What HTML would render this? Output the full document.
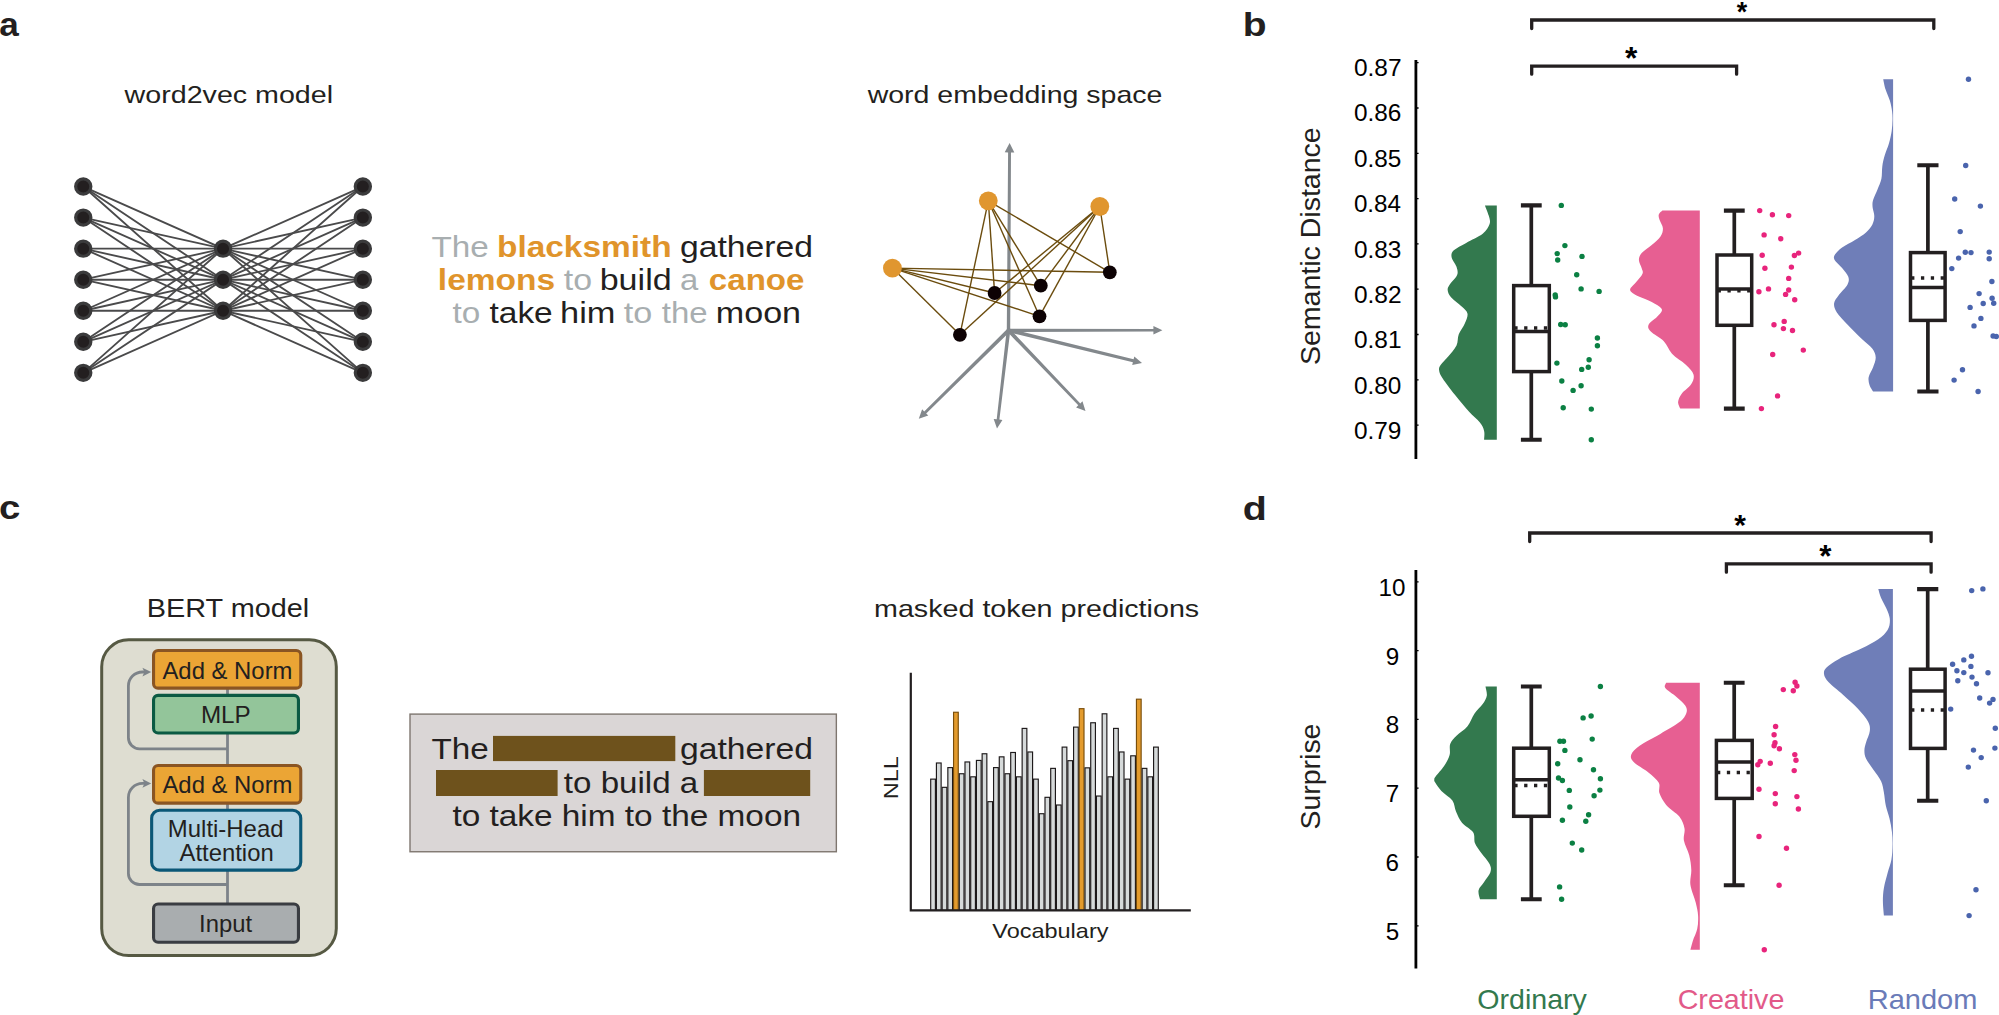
<!DOCTYPE html>
<html lang="en"><head><meta charset="utf-8"><title>Figure</title>
<style>html,body{margin:0;padding:0;background:#fff}body{width:1999px;height:1015px;overflow:hidden}svg{display:block}</style></head><body>
<svg width="1999" height="1015" viewBox="0 0 1999 1015" font-family="Liberation Sans, Arial, Helvetica, sans-serif">
<rect width="1999" height="1015" fill="#fff"/>
<text x="-0.85" y="36.2" font-size="34.1" textLength="19.53" lengthAdjust="spacingAndGlyphs" fill="#231f20" font-weight="bold">a</text>
<text x="1242.76" y="36.2" font-size="33.2" textLength="23.83" lengthAdjust="spacingAndGlyphs" fill="#231f20" font-weight="bold">b</text>
<text x="-1.03" y="519.4" font-size="34.1" textLength="21.33" lengthAdjust="spacingAndGlyphs" fill="#231f20" font-weight="bold">c</text>
<text x="1242.72" y="520" font-size="33.2" textLength="24.07" lengthAdjust="spacingAndGlyphs" fill="#231f20" font-weight="bold">d</text>
<text x="124.57" y="102.7" font-size="24.8" textLength="208.53" lengthAdjust="spacingAndGlyphs" fill="#231f20">word2vec model</text>
<g stroke="#4a4a4b" stroke-width="1.85">
<path d="M83.25 186.55L223.05 248.65L362.85 186.55" fill="none"/>
<path d="M83.25 186.55L223.05 279.7L362.85 186.55" fill="none"/>
<path d="M83.25 186.55L223.05 310.75L362.85 186.55" fill="none"/>
<path d="M83.25 217.6L223.05 248.65L362.85 217.6" fill="none"/>
<path d="M83.25 217.6L223.05 279.7L362.85 217.6" fill="none"/>
<path d="M83.25 217.6L223.05 310.75L362.85 217.6" fill="none"/>
<path d="M83.25 248.65L223.05 248.65L362.85 248.65" fill="none"/>
<path d="M83.25 248.65L223.05 279.7L362.85 248.65" fill="none"/>
<path d="M83.25 248.65L223.05 310.75L362.85 248.65" fill="none"/>
<path d="M83.25 279.7L223.05 248.65L362.85 279.7" fill="none"/>
<path d="M83.25 279.7L223.05 279.7L362.85 279.7" fill="none"/>
<path d="M83.25 279.7L223.05 310.75L362.85 279.7" fill="none"/>
<path d="M83.25 310.75L223.05 248.65L362.85 310.75" fill="none"/>
<path d="M83.25 310.75L223.05 279.7L362.85 310.75" fill="none"/>
<path d="M83.25 310.75L223.05 310.75L362.85 310.75" fill="none"/>
<path d="M83.25 341.8L223.05 248.65L362.85 341.8" fill="none"/>
<path d="M83.25 341.8L223.05 279.7L362.85 341.8" fill="none"/>
<path d="M83.25 341.8L223.05 310.75L362.85 341.8" fill="none"/>
<path d="M83.25 372.85L223.05 248.65L362.85 372.85" fill="none"/>
<path d="M83.25 372.85L223.05 279.7L362.85 372.85" fill="none"/>
<path d="M83.25 372.85L223.05 310.75L362.85 372.85" fill="none"/>
</g>
<g fill="#231f20" stroke="#3b3b3c" stroke-width="3.2">
<circle cx="83.25" cy="186.55" r="7.6"/><circle cx="362.85" cy="186.55" r="7.6"/>
<circle cx="83.25" cy="217.6" r="7.6"/><circle cx="362.85" cy="217.6" r="7.6"/>
<circle cx="83.25" cy="248.65" r="7.6"/><circle cx="362.85" cy="248.65" r="7.6"/>
<circle cx="83.25" cy="279.7" r="7.6"/><circle cx="362.85" cy="279.7" r="7.6"/>
<circle cx="83.25" cy="310.75" r="7.6"/><circle cx="362.85" cy="310.75" r="7.6"/>
<circle cx="83.25" cy="341.8" r="7.6"/><circle cx="362.85" cy="341.8" r="7.6"/>
<circle cx="83.25" cy="372.85" r="7.6"/><circle cx="362.85" cy="372.85" r="7.6"/>
<circle cx="223.05" cy="248.65" r="7.6"/>
<circle cx="223.05" cy="279.7" r="7.6"/>
<circle cx="223.05" cy="310.75" r="7.6"/>
</g>
<text x="431.45" y="256.7" font-size="28.7" textLength="57.28" lengthAdjust="spacingAndGlyphs" fill="#a8aeb0">The</text>
<text x="497.03" y="256.7" font-size="28.7" textLength="174.54" lengthAdjust="spacingAndGlyphs" fill="#e0942b" font-weight="bold">blacksmith</text>
<text x="679.97" y="256.7" font-size="28.7" textLength="133.05" lengthAdjust="spacingAndGlyphs" fill="#231f20">gathered</text>
<text x="437.85" y="289.8" font-size="28.7" textLength="117.32" lengthAdjust="spacingAndGlyphs" fill="#e0942b" font-weight="bold">lemons</text>
<text x="563.79" y="289.8" font-size="28.7" textLength="28.32" lengthAdjust="spacingAndGlyphs" fill="#a8aeb0">to</text>
<text x="599.69" y="289.8" font-size="28.7" textLength="71.96" lengthAdjust="spacingAndGlyphs" fill="#231f20">build</text>
<text x="680.01" y="289.8" font-size="28.7" textLength="18.25" lengthAdjust="spacingAndGlyphs" fill="#a8aeb0">a</text>
<text x="708.88" y="289.8" font-size="28.7" textLength="95.61" lengthAdjust="spacingAndGlyphs" fill="#e0942b" font-weight="bold">canoe</text>
<text x="452.4" y="322.8" font-size="28.7" textLength="27.78" lengthAdjust="spacingAndGlyphs" fill="#a8aeb0">to</text>
<text x="489.5" y="322.8" font-size="28.7" textLength="63.23" lengthAdjust="spacingAndGlyphs" fill="#231f20">take</text>
<text x="560.09" y="322.8" font-size="28.7" textLength="55.39" lengthAdjust="spacingAndGlyphs" fill="#231f20">him</text>
<text x="623.89" y="322.8" font-size="28.7" textLength="28.53" lengthAdjust="spacingAndGlyphs" fill="#a8aeb0">to</text>
<text x="661.81" y="322.8" font-size="28.7" textLength="45.8" lengthAdjust="spacingAndGlyphs" fill="#a8aeb0">the</text>
<text x="715.8" y="322.8" font-size="28.7" textLength="85.28" lengthAdjust="spacingAndGlyphs" fill="#231f20">moon</text>
<text x="867.67" y="102.6" font-size="24.8" textLength="294.74" lengthAdjust="spacingAndGlyphs" fill="#231f20">word embedding space</text>
<polygon fill="#83888c" points="1010.2,330.31 1010.99,152.41 1014.34,152.43 1009.6,143 1004.74,152.37 1008.09,152.39 1006.8,330.29"/>
<polygon fill="#83888c" points="1008.5,331.95 1153.4,331.41 1153.4,334.41 1162.4,330.2 1153.4,326.01 1153.4,329.01 1008.5,328.65"/>
<polygon fill="#83888c" points="1008.04,332.19 1132.91,362.17 1132.21,365.04 1142,362.9 1134.3,356.49 1133.6,359.36 1008.96,328.41"/>
<polygon fill="#83888c" points="1007.13,331.61 1078.27,405.36 1076.1,407.43 1085.5,410.9 1082.46,401.35 1080.3,403.43 1009.87,328.99"/>
<polygon fill="#83888c" points="1006.71,330.09 996.71,419.3 993.68,418.95 997,428.4 1002.42,419.97 999.39,419.62 1010.29,330.51"/>
<polygon fill="#83888c" points="1007.17,328.95 924.22,411.48 922.12,409.35 918.8,418.8 928.3,415.61 926.19,413.48 1009.83,331.65"/>
<circle cx="1008.5" cy="330.3" r="1.9" fill="#83888c"/>
<g stroke="#6b4c0e" stroke-width="1.4">
<line x1="988.3" y1="200.8" x2="1109.8" y2="272.3"/>
<line x1="988.3" y1="200.8" x2="1040.8" y2="285.7"/>
<line x1="988.3" y1="200.8" x2="994.6" y2="293"/>
<line x1="988.3" y1="200.8" x2="1039.5" y2="316.3"/>
<line x1="988.3" y1="200.8" x2="959.9" y2="334.8"/>
<line x1="1099.8" y1="206.5" x2="1109.8" y2="272.3"/>
<line x1="1099.8" y1="206.5" x2="1040.8" y2="285.7"/>
<line x1="1099.8" y1="206.5" x2="994.6" y2="293"/>
<line x1="1099.8" y1="206.5" x2="1039.5" y2="316.3"/>
<line x1="1099.8" y1="206.5" x2="959.9" y2="334.8"/>
<line x1="892.4" y1="268.1" x2="1109.8" y2="272.3"/>
<line x1="892.4" y1="268.1" x2="1040.8" y2="285.7"/>
<line x1="892.4" y1="268.1" x2="994.6" y2="293"/>
<line x1="892.4" y1="268.1" x2="1039.5" y2="316.3"/>
<line x1="892.4" y1="268.1" x2="959.9" y2="334.8"/>
</g>
<g fill="#e0962f"><circle cx="988.3" cy="200.8" r="9.4"/><circle cx="1099.8" cy="206.5" r="9.4"/><circle cx="892.4" cy="268.1" r="9.4"/></g>
<g fill="#0d0204"><circle cx="1109.8" cy="272.3" r="6.9"/><circle cx="1040.8" cy="285.7" r="6.9"/><circle cx="994.6" cy="293" r="6.9"/><circle cx="1039.5" cy="316.3" r="6.9"/><circle cx="959.9" cy="334.8" r="6.9"/></g>
<path d="M1415.9 60V459" stroke="#000" stroke-width="2.8" fill="none"/>
<path d="M1416 62.7h2.6M1416 108h2.6M1416 153.3h2.6M1416 198.6h2.6M1416 243.9h2.6M1416 289.2h2.6M1416 334.5h2.6M1416 379.8h2.6M1416 425.1h2.6" stroke="#000" stroke-width="1.3"/>
<text x="1353.92" y="76" font-size="23.3" textLength="47.64" lengthAdjust="spacingAndGlyphs" fill="#000">0.87</text>
<text x="1353.92" y="121.4" font-size="23.3" textLength="47.44" lengthAdjust="spacingAndGlyphs" fill="#000">0.86</text>
<text x="1353.93" y="166.8" font-size="23.3" textLength="47.38" lengthAdjust="spacingAndGlyphs" fill="#000">0.85</text>
<text x="1353.93" y="212.2" font-size="23.3" textLength="47.07" lengthAdjust="spacingAndGlyphs" fill="#000">0.84</text>
<text x="1353.92" y="257.6" font-size="23.3" textLength="47.44" lengthAdjust="spacingAndGlyphs" fill="#000">0.83</text>
<text x="1353.92" y="303" font-size="23.3" textLength="47.64" lengthAdjust="spacingAndGlyphs" fill="#000">0.82</text>
<text x="1353.92" y="348.4" font-size="23.3" textLength="47.57" lengthAdjust="spacingAndGlyphs" fill="#000">0.81</text>
<text x="1353.93" y="393.8" font-size="23.3" textLength="47.32" lengthAdjust="spacingAndGlyphs" fill="#000">0.80</text>
<text x="1353.92" y="439.2" font-size="23.3" textLength="47.51" lengthAdjust="spacingAndGlyphs" fill="#000">0.79</text>
<text transform="translate(1319.9 363.8) rotate(-90)" x="-1.28" y="0" font-size="27.3" textLength="237.76" lengthAdjust="spacingAndGlyphs" fill="#231f20">Semantic Distance</text>
<g stroke="#231f20" stroke-width="3.3" fill="none" stroke-linecap="round" stroke-linejoin="miter">
<path d="M1531.7 28.6V20H1933.8V28.6"/>
<path d="M1531.7 74.2V66.2H1736.6V74.2"/>
</g>
<text x="1736.87" y="20.66" font-size="26.85" textLength="10.45" lengthAdjust="spacingAndGlyphs" fill="#000" font-weight="bold">*</text>
<text x="1625.12" y="69.18" font-size="31.68" textLength="12.33" lengthAdjust="spacingAndGlyphs" fill="#000" font-weight="bold">*</text>
<path d="M1496.8 205.4L1484.9 205.4C1485.55 207.13 1488.02 212.68 1488.8 215.8C1489.58 218.92 1490.62 221.1 1489.6 224.1C1488.58 227.1 1486.6 230.67 1482.7 233.8C1478.8 236.93 1471.02 240.15 1466.2 242.9C1461.38 245.65 1456.23 247.92 1453.8 250.3C1451.37 252.68 1451.15 254.45 1451.6 257.2C1452.05 259.95 1455.58 263.82 1456.5 266.8C1457.42 269.78 1458.25 272.1 1457.1 275.1C1455.95 278.1 1451.17 282.27 1449.6 284.8C1448.03 287.33 1447.47 288.23 1447.7 290.3C1447.93 292.37 1448.62 294.45 1451 297.2C1453.38 299.95 1459.25 304.05 1462 306.8C1464.75 309.55 1467.03 310.93 1467.5 313.7C1467.97 316.47 1466.27 319.95 1464.8 323.4C1463.33 326.85 1460.08 330.73 1458.7 334.4C1457.32 338.07 1458.25 341.72 1456.5 345.4C1454.75 349.08 1450.82 353.28 1448.2 356.5C1445.58 359.72 1442.32 362.42 1440.8 364.7C1439.28 366.98 1438.78 367.9 1439.1 370.2C1439.42 372.5 1440.03 374.35 1442.7 378.5C1445.37 382.65 1450.73 389.58 1455.1 395.1C1459.47 400.62 1464.77 407.02 1468.9 411.6C1473.03 416.18 1477.37 419.38 1479.9 422.6C1482.43 425.82 1483.4 428.05 1484.1 430.9C1484.8 433.75 1484.1 438.23 1484.1 439.7L1496.8 439.7Z" fill="#33794e"/>
<g stroke="#231f20" stroke-width="3.5" fill="none">
<path d="M1520.9 205.4H1541.7M1520.9 439.7H1541.7" stroke-width="4.1"/>
<path d="M1531.3 205.4V285.6M1531.3 371.6V439.7" stroke-width="3.7"/>
<rect x="1513.7" y="285.6" width="35.6" height="86"/>
<path d="M1513.7 331.6H1549.3"/>
<path d="M1514.3 328H1550.8" stroke-dasharray="3.3 6.55"/>
</g>
<g fill="#0b8043"><circle cx="1561.3" cy="205.4" r="2.7"/><circle cx="1564.9" cy="245.6" r="2.7"/><circle cx="1557.2" cy="253.6" r="2.7"/><circle cx="1557.7" cy="260" r="2.7"/><circle cx="1582" cy="256.4" r="2.7"/><circle cx="1576.7" cy="274.8" r="2.7"/><circle cx="1581.1" cy="288.9" r="2.7"/><circle cx="1599.1" cy="291.4" r="2.7"/><circle cx="1555.2" cy="295" r="2.7"/><circle cx="1555.5" cy="296.9" r="2.7"/><circle cx="1560.7" cy="324.5" r="2.7"/><circle cx="1565.2" cy="324.7" r="2.7"/><circle cx="1597.4" cy="338" r="2.7"/><circle cx="1597.4" cy="345.7" r="2.7"/><circle cx="1589.1" cy="359.8" r="2.7"/><circle cx="1556.9" cy="363.1" r="2.7"/><circle cx="1588.3" cy="367.2" r="2.7"/><circle cx="1581.7" cy="369.4" r="2.7"/><circle cx="1561.8" cy="381" r="2.7"/><circle cx="1581.1" cy="385.7" r="2.7"/><circle cx="1573.1" cy="390.4" r="2.7"/><circle cx="1563.2" cy="407.7" r="2.7"/><circle cx="1591.3" cy="409.1" r="2.7"/><circle cx="1591.3" cy="439.7" r="2.7"/></g>
<path d="M1699.8 210.6L1662.4 210.6C1661.8 211.25 1659.27 212.93 1658.8 214.5C1658.33 216.07 1658.92 217.72 1659.6 220C1660.28 222.28 1662.75 225.45 1662.9 228.2C1663.05 230.95 1662.42 233.65 1660.5 236.5C1658.58 239.35 1654.53 242.53 1651.4 245.3C1648.27 248.07 1643.78 250.65 1641.7 253.1C1639.62 255.55 1638.9 257.48 1638.9 260C1638.9 262.52 1641.1 265.92 1641.7 268.2C1642.3 270.48 1643.42 271.4 1642.5 273.7C1641.58 276 1638.27 279.37 1636.2 282C1634.13 284.63 1630.33 287.43 1630.1 289.5C1629.87 291.57 1631.72 292.57 1634.8 294.4C1637.88 296.23 1644.47 298.43 1648.6 300.5C1652.73 302.57 1657.4 305.05 1659.6 306.8C1661.8 308.55 1662.25 309.3 1661.8 311C1661.35 312.7 1659.1 314.72 1656.9 317C1654.7 319.28 1649.62 322.27 1648.6 324.7C1647.58 327.13 1648.27 328.83 1650.8 331.6C1653.33 334.37 1660.27 337.62 1663.8 341.3C1667.33 344.98 1668.33 349.8 1672 353.7C1675.67 357.6 1682.22 361.25 1685.8 364.7C1689.38 368.15 1692.58 371.18 1693.5 374.4C1694.42 377.62 1693.27 380.78 1691.3 384C1689.33 387.22 1683.9 390.7 1681.7 393.7C1679.5 396.7 1678.33 399.52 1678.1 402C1677.87 404.48 1679.93 407.5 1680.3 408.6L1699.8 408.6Z" fill="#e75f92"/>
<g stroke="#231f20" stroke-width="3.5" fill="none">
<path d="M1723.9 210.6H1744.7M1723.9 408.6H1744.7" stroke-width="4.1"/>
<path d="M1734.3 210.6V255M1734.3 325.3V408.6" stroke-width="3.7"/>
<rect x="1717" y="255" width="34.7" height="70.3"/>
<path d="M1717 288.9H1751.7"/>
<path d="M1717.6 290.8H1753.2" stroke-dasharray="3.3 6.55"/>
</g>
<g fill="#e8247c"><circle cx="1759.7" cy="210.6" r="2.7"/><circle cx="1772.4" cy="214.7" r="2.7"/><circle cx="1788.7" cy="215.6" r="2.7"/><circle cx="1764.1" cy="234.9" r="2.7"/><circle cx="1780.7" cy="238.7" r="2.7"/><circle cx="1762.2" cy="255.3" r="2.7"/><circle cx="1798.6" cy="253.1" r="2.7"/><circle cx="1794.4" cy="255.5" r="2.7"/><circle cx="1764.9" cy="268.2" r="2.7"/><circle cx="1791.4" cy="267.1" r="2.7"/><circle cx="1788.7" cy="278.4" r="2.7"/><circle cx="1768.5" cy="288.9" r="2.7"/><circle cx="1758.9" cy="291.7" r="2.7"/><circle cx="1788.7" cy="290" r="2.7"/><circle cx="1785.6" cy="294.4" r="2.7"/><circle cx="1794.7" cy="299.7" r="2.7"/><circle cx="1784.2" cy="321.4" r="2.7"/><circle cx="1774" cy="324.7" r="2.7"/><circle cx="1783.4" cy="328.6" r="2.7"/><circle cx="1792.5" cy="330.5" r="2.7"/><circle cx="1803.3" cy="350.1" r="2.7"/><circle cx="1772.7" cy="354.5" r="2.7"/><circle cx="1777.6" cy="395.9" r="2.7"/><circle cx="1761.4" cy="408.6" r="2.7"/></g>
<path d="M1893.1 79.2L1883.2 79.2C1883.58 80.88 1884.38 85.7 1885.5 89.3C1886.62 92.9 1888.8 97.12 1889.9 100.8C1891 104.48 1891.67 108.15 1892.1 111.4C1892.53 114.65 1892.57 117.05 1892.5 120.3C1892.43 123.55 1892.28 127.07 1891.7 130.9C1891.12 134.73 1890.18 139.15 1889 143.3C1887.82 147.45 1885.72 151.95 1884.6 155.8C1883.48 159.65 1882.83 162.57 1882.3 166.4C1881.77 170.23 1882.2 174.95 1881.4 178.8C1880.6 182.65 1878.88 185.95 1877.5 189.5C1876.12 193.05 1873.92 197.15 1873.1 200.1C1872.28 203.05 1872.4 204.53 1872.6 207.2C1872.8 209.87 1874.33 213.22 1874.3 216.1C1874.27 218.98 1873.78 221.77 1872.4 224.5C1871.02 227.23 1868.9 229.92 1866 232.5C1863.1 235.08 1858.98 237.5 1855 240C1851.02 242.5 1845.43 245.07 1842.1 247.5C1838.77 249.93 1836.25 252.53 1835 254.6C1833.75 256.67 1833.42 257.68 1834.6 259.9C1835.78 262.12 1839.82 265.1 1842.1 267.9C1844.38 270.7 1847.42 273.9 1848.3 276.7C1849.18 279.5 1849.03 281.58 1847.4 284.7C1845.77 287.82 1840.72 292.3 1838.5 295.4C1836.28 298.5 1834.4 300.5 1834.1 303.3C1833.8 306.1 1834.48 308.65 1836.7 312.2C1838.92 315.75 1843.25 320.17 1847.4 324.6C1851.55 329.03 1857.47 334.8 1861.6 338.8C1865.73 342.8 1869.85 345.5 1872.2 348.6C1874.55 351.7 1875.55 354.3 1875.7 357.4C1875.85 360.5 1874.27 363.95 1873.1 367.2C1871.93 370.45 1869.3 373.95 1868.7 376.9C1868.1 379.85 1868.77 382.47 1869.5 384.9C1870.23 387.33 1872.5 390.4 1873.1 391.5L1893.1 391.5Z" fill="#6f7eb8"/>
<g stroke="#231f20" stroke-width="3.5" fill="none">
<path d="M1917.3 165.3H1938.5M1917.3 391.5H1938.5" stroke-width="4.1"/>
<path d="M1927.9 165.3V252.6M1927.9 320.4V391.5" stroke-width="3.7"/>
<rect x="1910.5" y="252.6" width="34.6" height="67.8"/>
<path d="M1910.5 287.6H1945.1"/>
<path d="M1911.1 278H1946.6" stroke-dasharray="3.3 6.55"/>
</g>
<g fill="#4a64ad"><circle cx="1968.5" cy="79.3" r="2.7"/><circle cx="1965.7" cy="165.5" r="2.7"/><circle cx="1954.7" cy="199" r="2.7"/><circle cx="1980.4" cy="206.1" r="2.7"/><circle cx="1960.2" cy="231.6" r="2.7"/><circle cx="1965.3" cy="252.3" r="2.7"/><circle cx="1971" cy="252.6" r="2.7"/><circle cx="1989.2" cy="252.1" r="2.7"/><circle cx="1958.6" cy="258.1" r="2.7"/><circle cx="1989.2" cy="258.7" r="2.7"/><circle cx="1951.8" cy="268.6" r="2.7"/><circle cx="1991.9" cy="281.5" r="2.7"/><circle cx="1979.1" cy="293.6" r="2.7"/><circle cx="1992.1" cy="298.2" r="2.7"/><circle cx="1983.2" cy="303.5" r="2.7"/><circle cx="1993.7" cy="303.3" r="2.7"/><circle cx="1970.1" cy="307.4" r="2.7"/><circle cx="1980.9" cy="318.4" r="2.7"/><circle cx="1974" cy="325.9" r="2.7"/><circle cx="1993.1" cy="336" r="2.7"/><circle cx="1996.3" cy="336.5" r="2.7"/><circle cx="1962.5" cy="369.8" r="2.7"/><circle cx="1954.1" cy="380.1" r="2.7"/><circle cx="1978.1" cy="391.5" r="2.7"/></g>
<text x="146.72" y="616.8" font-size="25.4" textLength="162.53" lengthAdjust="spacingAndGlyphs" fill="#231f20">BERT model</text>
<rect x="101.7" y="639.8" width="234.6" height="315.8" rx="27" ry="27" fill="#deddd1" stroke="#565943" stroke-width="3"/>
<g stroke="#7d8389" stroke-width="2.8" fill="none">
<path d="M227.5 688V904"/>
<path d="M227.5 748.8H139.4a11 11 0 0 1 -11 -11V686a14 14 0 0 1 14 -14H146"/>
<path d="M227.5 884.5H139.4a11 11 0 0 1 -11 -11V797.4a14 14 0 0 1 14 -14H146"/>
</g>
<path d="M151.2 672.1l-8.8 -4.3l2 4.3l-2 4.3z" fill="#7d8389"/>
<path d="M151.2 783.4l-8.8 -4.3l2 4.3l-2 4.3z" fill="#7d8389"/>
<rect x="153.55" y="650.45" width="147.2" height="37.7" rx="4.5" ry="4.5" fill="#eba535" stroke="#8a5523" stroke-width="3.1"/>
<rect x="153.55" y="695.35" width="144.9" height="37.7" rx="4.5" ry="4.5" fill="#93c59a" stroke="#0b5a43" stroke-width="3.1"/>
<rect x="153.55" y="765.45" width="147.2" height="37.7" rx="4.5" ry="4.5" fill="#eba535" stroke="#8a5523" stroke-width="3.1"/>
<rect x="151.65" y="810.25" width="149.1" height="59.9" rx="8" ry="8" fill="#b2d4e4" stroke="#0a5777" stroke-width="3.1"/>
<rect x="153.55" y="903.95" width="144.9" height="38.3" rx="4.5" ry="4.5" fill="#a9adaf" stroke="#3a3d42" stroke-width="3.1"/>
<text x="162.44" y="678.5" font-size="23.6" textLength="130.05" lengthAdjust="spacingAndGlyphs" fill="#231f20">Add &amp; Norm</text>
<text x="200.9" y="722.8" font-size="23.6" textLength="49.84" lengthAdjust="spacingAndGlyphs" fill="#231f20">MLP</text>
<text x="162.44" y="792.5" font-size="23.6" textLength="130.05" lengthAdjust="spacingAndGlyphs" fill="#231f20">Add &amp; Norm</text>
<text x="167.83" y="837.2" font-size="23.6" textLength="115.67" lengthAdjust="spacingAndGlyphs" fill="#231f20">Multi-Head</text>
<text x="179.54" y="861" font-size="23.6" textLength="94.15" lengthAdjust="spacingAndGlyphs" fill="#231f20">Attention</text>
<text x="199.1" y="932.3" font-size="23.6" textLength="52.96" lengthAdjust="spacingAndGlyphs" fill="#231f20">Input</text>
<rect x="410" y="714.1" width="426.35" height="137.65" fill="#dad6d6" stroke="#7e766f" stroke-width="1.4"/>
<rect x="493" y="735.9" width="182.3" height="25.2" fill="#6e521c"/>
<rect x="436" y="770" width="121.6" height="26" fill="#6e521c"/>
<rect x="703.9" y="770" width="106.3" height="26" fill="#6e521c"/>
<text x="431.45" y="759.2" font-size="28.7" textLength="57.28" lengthAdjust="spacingAndGlyphs" fill="#231f20">The</text>
<text x="679.97" y="759.2" font-size="28.7" textLength="133.05" lengthAdjust="spacingAndGlyphs" fill="#231f20">gathered</text>
<text x="563.8" y="792.6" font-size="28.7" textLength="134.46" lengthAdjust="spacingAndGlyphs" fill="#231f20">to build a</text>
<text x="452.4" y="826.1" font-size="28.7" textLength="348.6" lengthAdjust="spacingAndGlyphs" fill="#231f20">to take him to the moon</text>
<text x="874.06" y="616.6" font-size="24.8" textLength="325.13" lengthAdjust="spacingAndGlyphs" fill="#231f20">masked token predictions</text>
<text transform="translate(898.2 797.4) rotate(-90)" x="-1.95" y="0" font-size="21" textLength="43.26" lengthAdjust="spacingAndGlyphs" fill="#231f20">NLL</text>
<text x="992.28" y="938.3" font-size="20.8" textLength="116.19" lengthAdjust="spacingAndGlyphs" fill="#231f20">Vocabulary</text>
<g stroke="#1d191a" stroke-width="1.15">
<rect x="930.7" y="779.13" width="4.71" height="131.17" fill="#d6dada"/>
<rect x="936.42" y="762.99" width="4.71" height="147.31" fill="#d6dada"/>
<rect x="942.13" y="787.33" width="4.71" height="122.97" fill="#d6dada"/>
<rect x="947.85" y="767.6" width="4.71" height="142.7" fill="#d6dada"/>
<rect x="953.56" y="712.26" width="4.71" height="198.04" fill="#e39b2d" stroke="#7a4e0a"/>
<rect x="959.28" y="773.75" width="4.71" height="136.55" fill="#d6dada"/>
<rect x="964.99" y="761.96" width="4.71" height="148.34" fill="#d6dada"/>
<rect x="970.71" y="776.82" width="4.71" height="133.48" fill="#d6dada"/>
<rect x="976.42" y="760.42" width="4.71" height="149.88" fill="#d6dada"/>
<rect x="982.13" y="753.76" width="4.71" height="156.54" fill="#d6dada"/>
<rect x="987.85" y="801.67" width="4.71" height="108.63" fill="#d6dada"/>
<rect x="993.57" y="767.6" width="4.71" height="142.7" fill="#d6dada"/>
<rect x="999.28" y="756.84" width="4.71" height="153.46" fill="#d6dada"/>
<rect x="1005" y="773.75" width="4.71" height="136.55" fill="#d6dada"/>
<rect x="1010.71" y="752.48" width="4.71" height="157.82" fill="#d6dada"/>
<rect x="1016.42" y="776.82" width="4.71" height="133.48" fill="#d6dada"/>
<rect x="1022.14" y="728.4" width="4.71" height="181.9" fill="#d6dada"/>
<rect x="1027.86" y="751.97" width="4.71" height="158.33" fill="#d6dada"/>
<rect x="1033.57" y="779.13" width="4.71" height="131.17" fill="#d6dada"/>
<rect x="1039.29" y="813.72" width="4.71" height="96.58" fill="#d6dada"/>
<rect x="1045" y="797.32" width="4.71" height="112.98" fill="#d6dada"/>
<rect x="1050.71" y="768.37" width="4.71" height="141.93" fill="#d6dada"/>
<rect x="1056.43" y="805" width="4.71" height="105.3" fill="#d6dada"/>
<rect x="1062.14" y="747.1" width="4.71" height="163.2" fill="#d6dada"/>
<rect x="1067.86" y="760.68" width="4.71" height="149.62" fill="#d6dada"/>
<rect x="1073.58" y="727.12" width="4.71" height="183.18" fill="#d6dada"/>
<rect x="1079.29" y="708.67" width="4.71" height="201.63" fill="#e39b2d" stroke="#7a4e0a"/>
<rect x="1085.01" y="767.85" width="4.71" height="142.45" fill="#d6dada"/>
<rect x="1090.72" y="722.76" width="4.71" height="187.54" fill="#d6dada"/>
<rect x="1096.43" y="796.04" width="4.71" height="114.26" fill="#d6dada"/>
<rect x="1102.15" y="713.79" width="4.71" height="196.51" fill="#d6dada"/>
<rect x="1107.87" y="776.82" width="4.71" height="133.48" fill="#d6dada"/>
<rect x="1113.58" y="728.4" width="4.71" height="181.9" fill="#d6dada"/>
<rect x="1119.3" y="751.97" width="4.71" height="158.33" fill="#d6dada"/>
<rect x="1125.01" y="779.13" width="4.71" height="131.17" fill="#d6dada"/>
<rect x="1130.72" y="755.81" width="4.71" height="154.49" fill="#d6dada"/>
<rect x="1136.44" y="699.19" width="4.71" height="211.11" fill="#e39b2d" stroke="#7a4e0a"/>
<rect x="1142.15" y="768.37" width="4.71" height="141.93" fill="#d6dada"/>
<rect x="1147.87" y="776.82" width="4.71" height="133.48" fill="#d6dada"/>
<rect x="1153.59" y="747.1" width="4.71" height="163.2" fill="#d6dada"/>
</g>
<path d="M910.8 672.8V910.3H1190.8" stroke="#231f20" stroke-width="2.2" fill="none"/>
<path d="M1415.9 570V968.6" stroke="#000" stroke-width="2.8" fill="none"/>
<path d="M1416 581.8h2.6M1416 650.6h2.6M1416 719.4h2.6M1416 788.2h2.6M1416 857h2.6M1416 925.8h2.6" stroke="#000" stroke-width="1.3"/>
<text x="1378.5" y="595.7" font-size="23.3" textLength="26.95" lengthAdjust="spacingAndGlyphs" fill="#000">10</text>
<text x="1385.65" y="664.57" font-size="23.3" textLength="13.48" lengthAdjust="spacingAndGlyphs" fill="#000">9</text>
<text x="1385.68" y="733.44" font-size="23.3" textLength="13.48" lengthAdjust="spacingAndGlyphs" fill="#000">8</text>
<text x="1385.68" y="802.31" font-size="23.3" textLength="13.48" lengthAdjust="spacingAndGlyphs" fill="#000">7</text>
<text x="1385.58" y="871.18" font-size="23.3" textLength="13.48" lengthAdjust="spacingAndGlyphs" fill="#000">6</text>
<text x="1385.68" y="940.05" font-size="23.3" textLength="13.48" lengthAdjust="spacingAndGlyphs" fill="#000">5</text>
<text transform="translate(1320 828.3) rotate(-90)" x="-1.28" y="0" font-size="27.3" textLength="106.03" lengthAdjust="spacingAndGlyphs" fill="#231f20">Surprise</text>
<g stroke="#231f20" stroke-width="3.3" fill="none" stroke-linecap="round">
<path d="M1529.7 541.5V533H1931.1V541.5"/>
<path d="M1726.4 572.2V563.9H1931.1V572.2"/>
</g>
<text x="1734.24" y="535.17" font-size="30.07" textLength="11.7" lengthAdjust="spacingAndGlyphs" fill="#000" font-weight="bold">*</text>
<text x="1819.18" y="567.29" font-size="31.41" textLength="12.22" lengthAdjust="spacingAndGlyphs" fill="#000" font-weight="bold">*</text>
<path d="M1496.8 686.5L1485.5 686.5C1485.72 688.05 1487.27 692.87 1486.8 695.8C1486.33 698.73 1484.77 701.1 1482.7 704.1C1480.63 707.1 1476.93 710.12 1474.4 713.8C1471.87 717.48 1470.48 722.53 1467.5 726.2C1464.52 729.87 1459.38 732.82 1456.5 735.8C1453.62 738.78 1451.35 740.88 1450.2 744.1C1449.05 747.32 1450.62 751.43 1449.6 755.1C1448.58 758.77 1446.4 762.57 1444.1 766.1C1441.8 769.63 1437.43 774.08 1435.8 776.3C1434.17 778.52 1434.4 778.35 1434.3 779.4C1434.2 780.45 1434.02 780.67 1435.2 782.6C1436.38 784.53 1438.53 788 1441.4 791C1444.27 794 1449.97 797.17 1452.4 800.6C1454.83 804.03 1454.4 807.92 1456 811.6C1457.6 815.28 1459.15 819.25 1462 822.7C1464.85 826.15 1470.93 828.87 1473.1 832.3C1475.27 835.73 1473.63 839.85 1475 843.3C1476.37 846.75 1478.87 849.55 1481.3 853C1483.73 856.45 1488.08 860.78 1489.6 864C1491.12 867.22 1491.32 869.3 1490.4 872.3C1489.48 875.3 1486.07 879.02 1484.1 882C1482.13 884.98 1479.28 887.32 1478.6 890.2C1477.92 893.08 1479.77 897.78 1480 899.3L1496.8 899.3Z" fill="#33794e"/>
<g stroke="#231f20" stroke-width="3.5" fill="none">
<path d="M1520.9 686.5H1541.7M1520.9 899.3H1541.7" stroke-width="4.1"/>
<path d="M1531.3 686.5V748.2M1531.3 816.3V899.3" stroke-width="3.7"/>
<rect x="1513.7" y="748.2" width="35.6" height="68.1"/>
<path d="M1513.7 779.7H1549.3"/>
<path d="M1514.3 785.4H1550.8" stroke-dasharray="3.3 6.55"/>
</g>
<g fill="#0b8043"><circle cx="1600.4" cy="686.5" r="2.7"/><circle cx="1591.1" cy="716" r="2.7"/><circle cx="1583.1" cy="717.9" r="2.7"/><circle cx="1592.2" cy="739.1" r="2.7"/><circle cx="1559.9" cy="741.3" r="2.7"/><circle cx="1563.5" cy="741.3" r="2.7"/><circle cx="1564.9" cy="750.4" r="2.7"/><circle cx="1580" cy="759.8" r="2.7"/><circle cx="1557.7" cy="763.7" r="2.7"/><circle cx="1593.5" cy="769.7" r="2.7"/><circle cx="1558.5" cy="778" r="2.7"/><circle cx="1562.4" cy="780.5" r="2.7"/><circle cx="1600.4" cy="778.8" r="2.7"/><circle cx="1599.9" cy="790.1" r="2.7"/><circle cx="1569.3" cy="790.4" r="2.7"/><circle cx="1594.1" cy="795.7" r="2.7"/><circle cx="1569.8" cy="807" r="2.7"/><circle cx="1588.6" cy="814.7" r="2.7"/><circle cx="1562.4" cy="820.2" r="2.7"/><circle cx="1585.8" cy="821.3" r="2.7"/><circle cx="1572.3" cy="843.1" r="2.7"/><circle cx="1581.7" cy="850" r="2.7"/><circle cx="1559.6" cy="886.9" r="2.7"/><circle cx="1561.6" cy="899.3" r="2.7"/></g>
<path d="M1699.8 682.8L1666.2 682.8C1666.05 683.68 1663.58 685.73 1665.3 688.1C1667.02 690.47 1673.15 694.05 1676.5 697C1679.85 699.95 1683.77 703.1 1685.4 705.8C1687.03 708.5 1687.28 710.48 1686.3 713.2C1685.32 715.92 1683.83 718.65 1679.5 722.1C1675.17 725.55 1666.95 729.97 1660.3 733.9C1653.65 737.83 1644.43 742.25 1639.6 745.7C1634.77 749.15 1632.28 751.88 1631.3 754.6C1630.32 757.32 1630.85 759.03 1633.7 762C1636.55 764.97 1644.22 768.95 1648.4 772.4C1652.58 775.85 1656.97 779.25 1658.8 782.7C1660.63 786.15 1658.17 789.4 1659.4 793.1C1660.63 796.8 1662.85 800.97 1666.2 804.9C1669.55 808.83 1676.45 812.77 1679.5 816.7C1682.55 820.63 1683.77 824.55 1684.5 828.5C1685.23 832.45 1683.12 835.95 1683.9 840.4C1684.68 844.85 1687.97 850.28 1689.2 855.2C1690.43 860.12 1691.1 864.98 1691.3 869.9C1691.5 874.82 1689.67 879.27 1690.4 884.7C1691.13 890.13 1694.42 897.32 1695.7 902.5C1696.98 907.68 1697.85 911.37 1698.1 915.8C1698.35 920.23 1698.08 924.92 1697.2 929.1C1696.32 933.28 1693.93 937.45 1692.8 940.9C1691.67 944.35 1690.8 948.32 1690.4 949.8L1699.8 949.8Z" fill="#e75f92"/>
<g stroke="#231f20" stroke-width="3.5" fill="none">
<path d="M1723.8 682.8H1744.6M1723.8 885.3H1744.6" stroke-width="4.1"/>
<path d="M1734.2 682.8V740.4M1734.2 798.4V885.3" stroke-width="3.7"/>
<rect x="1716.4" y="740.4" width="35.8" height="58"/>
<path d="M1716.4 762H1752.2"/>
<path d="M1717 772.4H1753.7" stroke-dasharray="3.3 6.55"/>
</g>
<g fill="#e8247c"><circle cx="1795.1" cy="682.2" r="2.7"/><circle cx="1796.9" cy="686" r="2.7"/><circle cx="1783.3" cy="689.6" r="2.7"/><circle cx="1793.3" cy="690.8" r="2.7"/><circle cx="1775.6" cy="726.5" r="2.7"/><circle cx="1774.1" cy="734.8" r="2.7"/><circle cx="1775" cy="742.8" r="2.7"/><circle cx="1774.1" cy="745.7" r="2.7"/><circle cx="1779.4" cy="748.7" r="2.7"/><circle cx="1794.8" cy="754.6" r="2.7"/><circle cx="1796" cy="760.2" r="2.7"/><circle cx="1760.2" cy="761.4" r="2.7"/><circle cx="1757.8" cy="764.7" r="2.7"/><circle cx="1770.3" cy="763.2" r="2.7"/><circle cx="1794.2" cy="770.6" r="2.7"/><circle cx="1759" cy="789.2" r="2.7"/><circle cx="1775.3" cy="793.6" r="2.7"/><circle cx="1796.9" cy="796.6" r="2.7"/><circle cx="1775.3" cy="803.7" r="2.7"/><circle cx="1798.4" cy="809" r="2.7"/><circle cx="1759" cy="836.5" r="2.7"/><circle cx="1786.5" cy="848.3" r="2.7"/><circle cx="1779.1" cy="885.3" r="2.7"/><circle cx="1764.3" cy="949.8" r="2.7"/></g>
<path d="M1892.9 589.1L1878.3 589.1C1878.77 590.6 1879.55 594.42 1881.1 598.1C1882.65 601.78 1886.13 607.47 1887.6 611.2C1889.07 614.93 1889.9 617.38 1889.9 620.5C1889.9 623.62 1889.53 626.77 1887.6 629.9C1885.67 633.03 1882.67 636.18 1878.3 639.3C1873.93 642.42 1867.95 645.33 1861.4 648.6C1854.85 651.87 1844.77 655.78 1839 658.9C1833.23 662.02 1829.3 664.8 1826.8 667.3C1824.3 669.8 1823.68 671.4 1824 673.9C1824.32 676.4 1825.58 678.87 1828.7 682.3C1831.82 685.73 1837.87 690.13 1842.7 694.5C1847.53 698.87 1853.48 703.98 1857.7 708.5C1861.92 713.02 1865.98 717.85 1868 721.6C1870.02 725.35 1870.12 727.57 1869.8 731C1869.48 734.43 1867 738.95 1866.1 742.2C1865.2 745.45 1864.4 747.75 1864.4 750.5C1864.4 753.25 1864.57 755.45 1866.1 758.7C1867.63 761.95 1871.1 766.25 1873.6 770C1876.1 773.75 1879.38 777.47 1881.1 781.2C1882.82 784.93 1883.12 788.35 1883.9 792.4C1884.68 796.45 1884.87 801.13 1885.8 805.5C1886.73 809.87 1888.48 814.23 1889.5 818.6C1890.52 822.97 1891.4 827.33 1891.9 831.7C1892.4 836.07 1892.58 840.12 1892.5 844.8C1892.42 849.48 1892.22 855.12 1891.4 859.8C1890.58 864.48 1888.85 868.22 1887.6 872.9C1886.35 877.58 1884.68 883.22 1883.9 887.9C1883.12 892.58 1882.9 896.38 1882.9 901C1882.9 905.62 1883.73 913.17 1883.9 915.6L1892.9 915.6Z" fill="#6f7eb8"/>
<g stroke="#231f20" stroke-width="3.5" fill="none">
<path d="M1917.1 589.1H1938.3M1917.1 800.8H1938.3" stroke-width="4.1"/>
<path d="M1927.7 589.1V669.2M1927.7 748.4V800.8" stroke-width="3.7"/>
<rect x="1910.5" y="669.2" width="34.6" height="79.2"/>
<path d="M1910.5 690.9H1945.1"/>
<path d="M1911.1 710H1946.6" stroke-dasharray="3.3 6.55"/>
</g>
<g fill="#4a64ad"><circle cx="1971.7" cy="590.6" r="2.7"/><circle cx="1982.9" cy="588.9" r="2.7"/><circle cx="1971.5" cy="656.3" r="2.7"/><circle cx="1963.8" cy="659.9" r="2.7"/><circle cx="1952.6" cy="664.2" r="2.7"/><circle cx="1970.9" cy="666.4" r="2.7"/><circle cx="1956.9" cy="670.7" r="2.7"/><circle cx="1963.8" cy="672.6" r="2.7"/><circle cx="1988" cy="672.8" r="2.7"/><circle cx="1972" cy="677.1" r="2.7"/><circle cx="1957.8" cy="680.8" r="2.7"/><circle cx="1976.5" cy="683.8" r="2.7"/><circle cx="1979.7" cy="698" r="2.7"/><circle cx="1993" cy="699.4" r="2.7"/><circle cx="1989.6" cy="703.1" r="2.7"/><circle cx="1950.7" cy="709.1" r="2.7"/><circle cx="1995.3" cy="728.2" r="2.7"/><circle cx="1994.9" cy="748.1" r="2.7"/><circle cx="1973.5" cy="750.1" r="2.7"/><circle cx="1981.2" cy="757.6" r="2.7"/><circle cx="1968.3" cy="767.1" r="2.7"/><circle cx="1986.3" cy="800.8" r="2.7"/><circle cx="1976" cy="889.8" r="2.7"/><circle cx="1969.1" cy="915.6" r="2.7"/></g>
<text x="1477.24" y="1008.9" font-size="28.3" textLength="109.62" lengthAdjust="spacingAndGlyphs" fill="#33794e">Ordinary</text>
<text x="1677.67" y="1008.9" font-size="28.3" textLength="106.69" lengthAdjust="spacingAndGlyphs" fill="#e25a89">Creative</text>
<text x="1867.71" y="1008.9" font-size="28.3" textLength="109.68" lengthAdjust="spacingAndGlyphs" fill="#6a7bb8">Random</text>
</svg></body></html>
